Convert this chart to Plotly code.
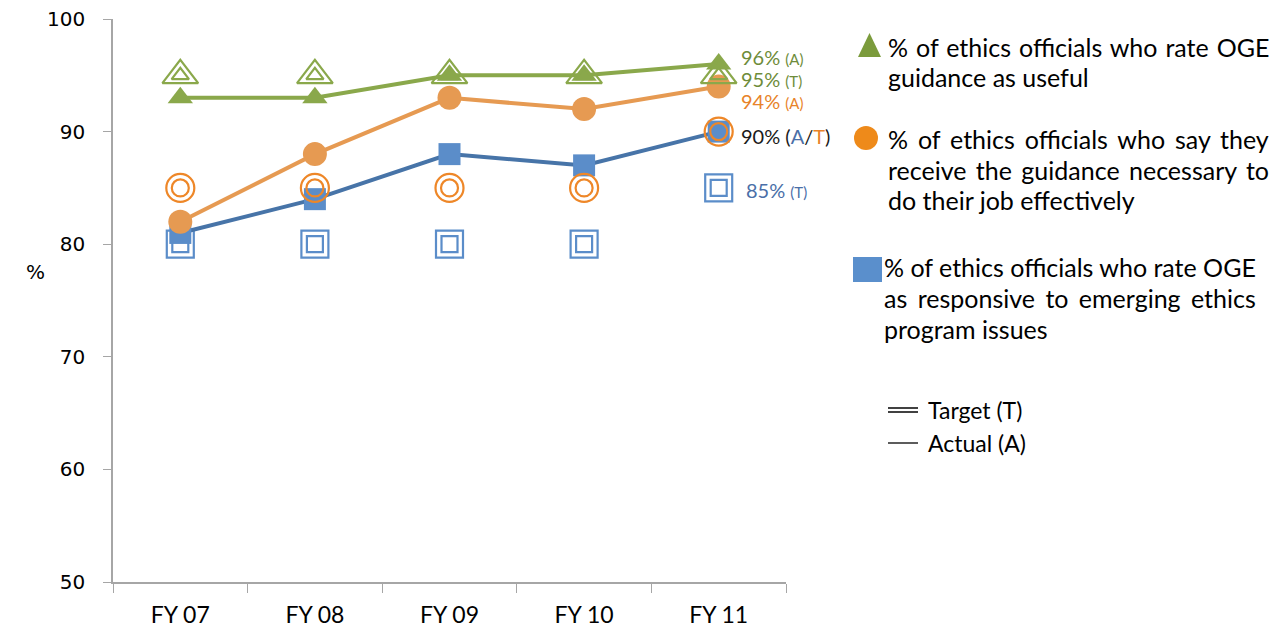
import plotly.graph_objects as go

# Survey results by fiscal year
years = ["FY 07", "FY 08", "FY 09", "FY 10", "FY 11"]

useful_actual = [93, 93, 95, 95, 96]
useful_target = [95, 95, 95, 95, 95]

guidance_actual = [82, 88, 93, 92, 94]
guidance_target = [85, 85, 85, 85, 90]

responsive_actual = [81, 84, 88, 87, 90]
responsive_target = [80, 80, 80, 80, 85]

y_ticks = [50, 60, 70, 80, 90, 100]

GREEN = "#8AA84B"
ORANGE_LINE = "#E69A52"
ORANGE_RING = "#EE8728"
BLUE_LINE = "#4774A8"
BLUE_MARK = "#5B8DC9"

W, H = 1280, 631
L, R, T, B = 113, 786, 19, 582  # plot area in pixels


def px(x):
    return (x - L) / (R - L)


def py(y):
    return (B - y) / (B - T)


fig = go.Figure()


def double_marker(values, symbol, color, outer, inner, width):
    for s in (outer, inner):
        fig.add_trace(go.Scatter(
            x=years, y=values, mode="markers", showlegend=False,
            marker=dict(symbol=symbol, size=s, color=color,
                        line=dict(color=color, width=width)),
            hoverinfo="skip"))


# responsive to emerging issues
double_marker(responsive_target, "square-open", BLUE_MARK, 27, 16, 2.2)
fig.add_trace(go.Scatter(
    x=years, y=responsive_actual, mode="lines+markers", showlegend=False,
    line=dict(color=BLUE_LINE, width=4),
    marker=dict(symbol="square", size=22, color=BLUE_MARK)))

# guidance necessary to do the job
fig.add_trace(go.Scatter(
    x=years, y=guidance_actual, mode="lines+markers", showlegend=False,
    line=dict(color=ORANGE_LINE, width=4),
    marker=dict(symbol="circle", size=24, color=ORANGE_LINE)))
double_marker(guidance_target, "circle-open", ORANGE_RING, 28, 17, 2.2)

# guidance rated useful
fig.add_trace(go.Scatter(
    x=years, y=useful_actual, mode="lines+markers", showlegend=False,
    line=dict(color=GREEN, width=4),
    marker=dict(symbol="triangle-up", size=22, color=GREEN)))
double_marker(useful_target, "triangle-up-open", GREEN, 31, 15, 2.2)

annotations = []
shapes = []

# end-of-line value labels
GTXT = "#6E8C3A"
OTXT = "#E8832A"
BTXT = "#4A6FA8"


def small(s):
    return "<span style='font-size:15px'>" + s + "</span>"


end_labels = [
    (739, 57, "96% " + small("(A)"), GTXT),
    (739, 79, "95% " + small("(T)"), GTXT),
    (739, 101, "94% " + small("(A)"), OTXT),
    (739, 136, "90% (<span style='color:" + BTXT + "'>A</span>/<span style='color:"
     + OTXT + "'>T</span>)", "#1a1a1a"),
    (744, 190, "85% " + small("(T)"), BTXT),
]
for x, y, text, col in end_labels:
    annotations.append(dict(x=px(x), y=py(y), xref="paper", yref="paper", text=text,
                            showarrow=False, xanchor="left", yanchor="middle",
                            font=dict(family="Lato", size=20, color=col)))

# y-axis title
annotations.append(dict(x=px(24), y=py(272), xref="paper", yref="paper", text="%",
                        showarrow=False, font=dict(family="DejaVu Sans", size=20, color="#000")))

# legend entries, one annotation per line; word spacing stretches full lines
legend_lines = [
    (886, 47, "% of ethics officials who rate OGE", 1.6),
    (886, 77, "guidance as useful", 0),
    (886, 139, "% of ethics officials who say they", 3.5),
    (886, 170, "receive the guidance necessary to", 3.0),
    (886, 200, "do their job effectively", 0),
    (882, 267, "% of ethics officials who rate OGE", 0.0),
    (882, 298, "as responsive to emerging ethics", 4.0),
    (882, 329, "program issues", 0),
]
for x, y, text, ws in legend_lines:
    annotations.append(dict(x=px(x), y=py(y), xref="paper", yref="paper",
                            text="<span style='word-spacing:%.1fpx'>%s</span>" % (ws, text),
                            showarrow=False, xanchor="left", yanchor="middle", align="left",
                            font=dict(family="Lato", size=25, color="#000")))

# legend symbols
tx0, tx1, tyb, tyt = px(858), px(881), py(57), py(33)
shapes.append(dict(type="path", xref="paper", yref="paper",
                   path="M %f %f L %f %f L %f %f Z" % (tx0, tyb, tx1, tyb, (tx0 + tx1) / 2, tyt),
                   fillcolor="#7B9B3C", line=dict(width=0)))
shapes.append(dict(type="circle", xref="paper", yref="paper",
                   x0=px(854), x1=px(878), y0=py(150), y1=py(126),
                   fillcolor="#EE8A1A", line=dict(width=0)))
shapes.append(dict(type="rect", xref="paper", yref="paper",
                   x0=px(853), x1=px(882), y0=py(282), y1=py(257),
                   fillcolor="#5A8FCC", line=dict(width=0)))

# line-style key
for y in (408, 412):
    shapes.append(dict(type="line", xref="paper", yref="paper",
                       x0=px(888), x1=px(918), y0=py(y), y1=py(y),
                       line=dict(color="#111", width=1.6)))
shapes.append(dict(type="line", xref="paper", yref="paper",
                   x0=px(888), x1=px(918), y0=py(443), y1=py(443),
                   line=dict(color="#333", width=1.6)))
for y, text in ((410, "Target (T)"), (443, "Actual (A)")):
    annotations.append(dict(x=px(926), y=py(y), xref="paper", yref="paper", text=text,
                            showarrow=False, xanchor="left", yanchor="middle",
                            font=dict(family="Lato", size=23, color="#000")))

fig.update_layout(
    width=W, height=H,
    margin=dict(l=L, r=W - R, t=T, b=H - B, autoexpand=False),
    paper_bgcolor="white", plot_bgcolor="white",
    annotations=annotations, shapes=shapes,
    xaxis=dict(type="category", showgrid=False, zeroline=False, automargin=False,
               showline=True, linecolor="#A6A6A6", linewidth=1.5,
               ticks="outside", tickson="boundaries", ticklen=9, tickcolor="#A6A6A6",
               ticklabelstandoff=12,
               tickfont=dict(family="Lato", size=23, color="#000"),
               range=[-0.5, 4.5]),
    yaxis=dict(range=[50, 100], tickvals=y_ticks, showgrid=False, zeroline=False,
               automargin=False,
               showline=True, linecolor="#A6A6A6", linewidth=1.5,
               ticks="outside", ticklen=8, tickcolor="#A6A6A6",
               ticklabelstandoff=14,
               tickfont=dict(family="DejaVu Sans", size=20, color="#000")),
)

fig.write_html("out.html")
